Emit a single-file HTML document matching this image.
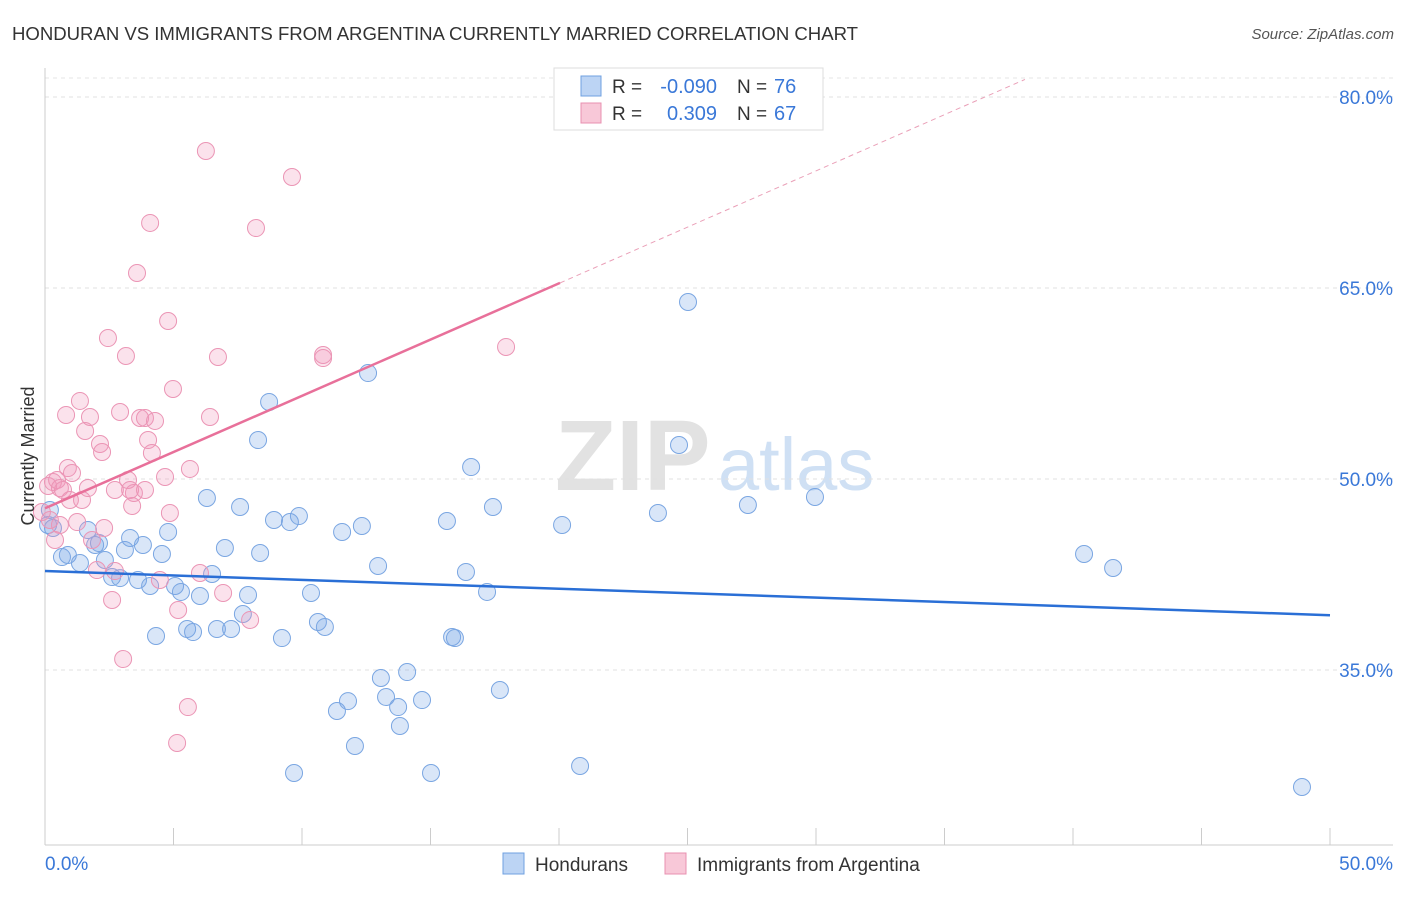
<!DOCTYPE html>
<html><head><meta charset="utf-8"><style>
body{margin:0;background:#fff;font-family:"Liberation Sans",sans-serif}
svg text{font-family:"Liberation Sans",sans-serif}
</style></head><body>
<svg id="chart" width="1406" height="892" viewBox="0 0 1406 892" xmlns="http://www.w3.org/2000/svg">
<text x="12" y="40" font-size="18.6" fill="#333" textLength="846">HONDURAN VS IMMIGRANTS FROM ARGENTINA CURRENTLY MARRIED CORRELATION CHART</text>
<text x="1394" y="39" font-size="15" fill="#555" text-anchor="end" font-style="italic">Source: ZipAtlas.com</text>
<text x="555" y="490" font-size="100" fill="#e2e2e2" font-family="Liberation Serif" font-weight="bold">ZIP</text>
<text x="718" y="490" font-size="74" fill="#cfe0f4">atlas</text>
<g id="grid"></g>
<g id="axes"></g>
<g id="marks"></g>
<text transform="translate(34,456) rotate(-90)" font-size="18" fill="#333" text-anchor="middle">Currently Married</text>
<g>
<rect x="554" y="68" width="269" height="62" fill="#fff" stroke="#ddd"/>
<rect x="581" y="76" width="20" height="20" fill="#bcd4f4" stroke="#6fa0e0"/>
<text x="612" y="93" font-size="19" fill="#333">R =</text>
<text x="717" y="93" font-size="20" fill="#3a78d8" text-anchor="end">-0.090</text>
<text x="737" y="93" font-size="19" fill="#333">N =</text>
<text x="774" y="93" font-size="20" fill="#3a78d8">76</text>
<rect x="581" y="103" width="20" height="20" fill="#f8c8d8" stroke="#e890b0"/>
<text x="612" y="120" font-size="19" fill="#333">R =</text>
<text x="717" y="120" font-size="20" fill="#3a78d8" text-anchor="end">0.309</text>
<text x="737" y="120" font-size="19" fill="#333">N =</text>
<text x="774" y="120" font-size="20" fill="#3a78d8">67</text>
</g>
<g>
<rect x="503" y="853" width="21" height="21" fill="#bcd4f4" stroke="#6fa0e0"/>
<text x="535" y="871" font-size="19" fill="#333">Hondurans</text>
<rect x="665" y="853" width="21" height="21" fill="#f8c8d8" stroke="#e890b0"/>
<text x="697" y="871" font-size="19" fill="#333">Immigrants from Argentina</text>
</g>
</svg>
<script>
const yTicks=[80,65,50,35];
const xTickLabels=["0.0%","50.0%"];
const blueX=[0.19,0.31,0.66,0.89,1.36,1.67,1.95,2.10,2.33,2.61,2.92,3.11,3.31,3.62,3.81,4.09,4.32,4.55,4.79,5.06,5.29,5.53,5.76,6.03,6.30,6.50,6.69,7.00,7.24,7.59,7.70,7.90,8.29,8.37,8.72,8.91,9.22,9.53,9.69,9.88,10.35,10.62,10.89,11.36,11.56,11.79,12.06,12.33,12.57,12.96,13.07,13.27,13.74,13.81,14.09,14.67,15.02,15.64,15.84,15.95,16.38,16.58,17.20,17.43,17.70,20.12,20.82,23.85,24.67,25.02,27.35,29.96,40.43,41.56,48.91,0.12];
const blueY=[47.57,46.15,43.87,44.03,43.40,45.99,44.82,44.97,43.64,42.30,42.22,44.42,45.37,42.07,44.82,41.60,37.67,44.11,45.84,41.60,41.13,38.22,37.98,40.81,48.51,42.54,38.22,44.58,38.22,47.80,39.40,40.89,53.06,44.19,56.05,46.78,37.51,46.62,26.91,47.09,41.05,38.77,38.38,31.78,45.84,32.56,29.03,46.31,58.32,43.17,34.37,32.88,32.09,30.60,34.84,32.64,26.91,46.70,37.59,37.51,42.70,50.94,41.13,47.80,33.43,46.39,27.46,47.33,52.67,63.90,47.96,48.59,44.11,43.01,25.81,46.39];
const pinkX=[0.12,0.19,0.31,0.47,0.58,0.70,0.82,0.89,0.97,1.05,1.25,1.36,1.44,1.56,1.67,1.75,2.02,2.14,2.22,2.30,2.45,2.61,2.72,2.92,3.04,3.15,3.23,3.39,3.46,3.58,3.70,3.89,4.01,4.09,4.16,4.28,4.47,4.67,4.79,4.86,4.98,5.18,5.14,5.56,5.64,6.03,6.26,6.42,6.73,6.93,7.98,8.21,9.61,10.82,10.82,17.94,0.39,0.58,1.83,3.31,3.89,2.72,-0.12];
const pinkY=[49.45,46.78,49.76,49.92,49.29,49.14,55.03,50.86,48.35,50.47,46.62,56.13,48.35,53.77,49.29,54.87,42.85,52.75,52.12,46.15,61.07,40.50,42.77,55.26,35.86,59.66,49.92,47.88,48.90,66.18,54.79,54.79,53.06,70.11,52.04,54.56,42.07,50.16,62.41,47.33,57.07,39.71,29.27,32.09,50.79,42.62,75.76,54.87,59.58,41.05,38.93,69.71,73.72,59.74,59.50,60.37,45.21,46.39,45.21,49.14,49.14,49.14,47.41];
const blueTrend=[42.77,39.3];
const pinkTrend=[47.7,65.4];
const X=v=>45+v*25.7, Y=v=>479-(v-50)*12.733;
const NS="http://www.w3.org/2000/svg";
function mk(t,a,p){const e=document.createElementNS(NS,t);for(const k in a)e.setAttribute(k,a[k]);p.appendChild(e);return e;}
const grid=document.getElementById('grid'),axes=document.getElementById('axes'),marks=document.getElementById('marks');
mk('line',{x1:45,x2:1393,y1:78,y2:78,stroke:'#e4e4e4','stroke-dasharray':'4,4'},grid);
yTicks.forEach(t=>{
 const l=mk('line',{x1:45,x2:1393,y1:Y(t),y2:Y(t),stroke:'#e0e0e0','stroke-dasharray':'4,4'},grid);
 
 
 const tx=mk('text',{x:1393,y:Y(t)+7,'font-size':19,fill:'#3a78d8','text-anchor':'end'},axes);
 tx.textContent=t.toFixed(1)+'%';
 
 
});
mk('line',{x1:45,x2:45,y1:68,y2:845,stroke:'#ccc'},axes);
mk('line',{x1:45,x2:1393,y1:845,y2:845,stroke:'#ccc'},axes);
for(let i=0;i<=10;i++){const x=X(i*5);mk('line',{x1:x,x2:x,y1:828,y2:845,stroke:'#ccc'},axes);}
[[0,'start',45],[1,'end',1393]].forEach(([i,a,x])=>{const t=mk('text',{x:x,y:870,'font-size':19,fill:'#3a78d8','text-anchor':a},axes);t.textContent=xTickLabels[i];
 
 });
function dots(xs,ys,fill,stroke,name){xs.forEach((v,i)=>{const c=mk('circle',{cx:X(v),cy:Y(ys[i]),r:8.5,fill:fill,stroke:stroke,'stroke-width':1},marks);
 
 });}
dots(blueX,blueY,'rgba(120,165,230,0.28)','#7aa6e2','honduran-point');
dots(pinkX,pinkY,'rgba(240,150,185,0.28)','#eb95b5','argentina-point');
const bl=mk('line',{x1:X(0),y1:Y(blueTrend[0]),x2:X(50),y2:Y(blueTrend[1]),stroke:'#2a6fd6','stroke-width':2.5},marks);


const pe=20.04, ps=(pinkTrend[1]-pinkTrend[0])/pe;
const pl=mk('line',{x1:X(0),y1:Y(pinkTrend[0]),x2:X(pe),y2:Y(pinkTrend[1]),stroke:'#e8709a','stroke-width':2.5},marks);


const pd=mk('line',{x1:X(pe),y1:Y(pinkTrend[1]),x2:X(38.13),y2:Y(pinkTrend[0]+ps*38.13),stroke:'#eaa0b8','stroke-width':1,'stroke-dasharray':'5,4'},marks);


</script>
</body></html>
